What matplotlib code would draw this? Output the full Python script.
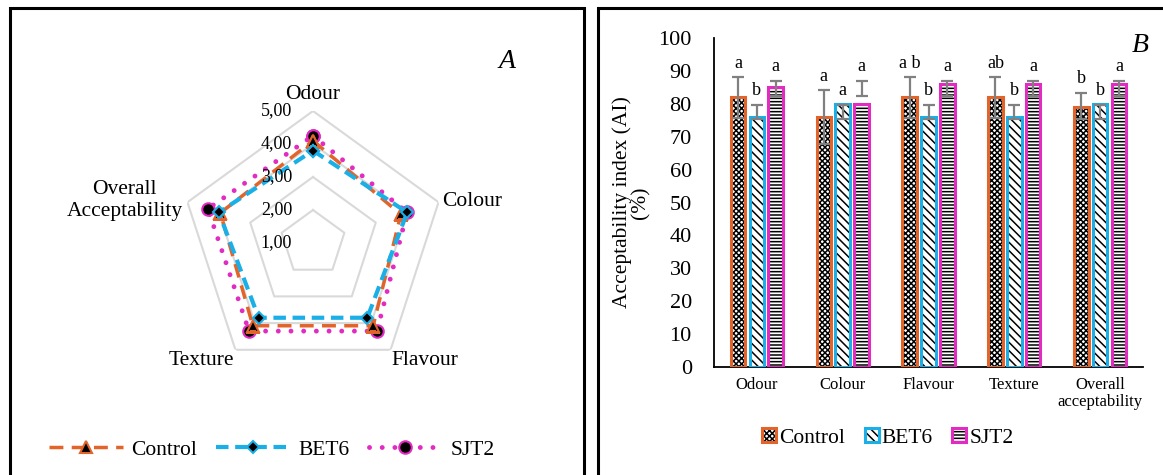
import numpy as np
import matplotlib
matplotlib.use("Agg")
import matplotlib.pyplot as plt
from matplotlib.patches import Rectangle, Patch
from matplotlib.lines import Line2D

plt.rcParams['font.family'] = ['Liberation Serif', 'DejaVu Serif']
plt.rcParams['hatch.linewidth'] = 1.1

# ---------------- data ----------------
radar_attrs = ["Odour", "Colour", "Flavour", "Texture", "Overall\nAcceptability"]
radar_control = [4.10, 3.80, 4.10, 4.10, 3.95]
radar_bet6 = [3.80, 4.00, 3.80, 3.80, 4.00]
radar_sjt2 = [4.25, 4.00, 4.30, 4.30, 4.35]
radar_rings = [1, 2, 3, 4, 5]
radar_ring_labels = ["1,00", "2,00", "3,00", "4,00", "5,00"]

bar_cats = ["Odour", "Colour", "Flavour", "Texture", "Overall\nacceptability"]
series_names = ["Control", "BET6", "SJT2"]
ai_control = [82, 76, 82, 82, 79]
ai_bet6 = [76, 80, 76, 76, 80]
ai_sjt2 = [85, 80, 86, 86, 86]
err_lo_control = [75.8, 67.7, 75.8, 75.8, 75.3]
err_hi_control = [88.0, 84.1, 88.0, 88.0, 83.4]
err_lo_bet6 = [75.5, 75.5, 75.5, 75.5, 75.5]
err_hi_bet6 = [79.6, 79.6, 79.6, 79.6, 79.6]
err_lo_sjt2 = [82.4, 82.4, 82.4, 82.4, 82.4]
err_hi_sjt2 = [86.9, 86.9, 86.9, 86.9, 86.9]
letters_control = ["a", "a", "a b", "ab", "b"]
letters_bet6 = ["b", "a", "b", "b", "b"]
letters_sjt2 = ["a", "a", "a", "a", "a"]
y_ticks = [0, 10, 20, 30, 40, 50, 60, 70, 80, 90, 100]

ORANGE = '#E2642A'
BLUE = '#1AAFE6'
MAGENTA = '#E22BC0'
GRID = '#d9d9d9'

W, H = 1163, 475
fig = plt.figure(figsize=(W / 100, H / 100), dpi=100)

# panel borders
for x0, x1 in [(10, 584), (598, 1175)]:
    fig.add_artist(Rectangle((x0 / W, -0.2), (x1 - x0) / W, 1.2 - 8 / H,
                             transform=fig.transFigure, fill=False,
                             ec='black', lw=2.2, clip_on=False))

# ---------------- radar (A) ----------------
cx, cy, R = 313, 243, 132
axr = fig.add_axes([(cx - R) / W, (H - cy - R) / H, 2 * R / W, 2 * R / H],
                   projection='polar')
axr.set_theta_zero_location('N')
axr.set_theta_direction(-1)
axr.set_ylim(1, 5)
axr.grid(False)
axr.spines['polar'].set_visible(False)
axr.set_xticks([])
axr.set_yticks([])
axr.patch.set_alpha(0)

n = len(radar_attrs)
theta = np.linspace(0, 2 * np.pi, n, endpoint=False)
theta_c = np.append(theta, theta[0])

for r in radar_rings[1:]:
    axr.plot(theta_c, [r] * (n + 1), color=GRID, lw=1.5, zorder=1)

for r, lab in zip(radar_rings, radar_ring_labels):
    axr.annotate(lab, xy=(0, r), xytext=(-21, 0), textcoords='offset pixels',
                 ha='right', va='center', fontsize=13, zorder=6)


def closed(v):
    return list(v) + [v[0]]


axr.plot(theta_c, closed(radar_sjt2), color=MAGENTA, lw=3.5,
         linestyle=(0, (0.01, 2.6)), dash_capstyle='round', marker='o',
         markersize=9, markerfacecolor='black', markeredgecolor=MAGENTA,
         markeredgewidth=1.5, zorder=3)
axr.plot(theta_c, closed(radar_control), color=ORANGE, lw=2.5,
         linestyle=(0, (4, 2.4)), marker='^', markersize=8,
         markerfacecolor='black', markeredgecolor=ORANGE,
         markeredgewidth=1.5, zorder=4)
axr.plot(theta_c, closed(radar_bet6), color=BLUE, lw=3.0,
         linestyle=(0, (3, 1.6)), marker='D', markersize=6,
         markerfacecolor='black', markeredgecolor=BLUE,
         markeredgewidth=1.5, zorder=5)

# axis labels
label_specs = [
    (5.50, 'center', 'center'),
    (5.10, 'left', 'center'),
    (5.05, 'left', 'top'),
    (5.05, 'right', 'top'),
    (5.15, 'right', 'center'),
]
for t, lab, (rr, ha, va) in zip(theta, radar_attrs, label_specs):
    axr.text(t, rr, lab, ha=ha, va=va, fontsize=15.5, multialignment='center')

fig.text(507 / W, 1 - 62 / H, "A", fontsize=20, style='italic',
         ha='center', va='center')

radar_handles = [
    Line2D([], [], color=ORANGE, lw=2.5, linestyle=(0, (4, 2.4)), marker='^',
           markersize=8, markerfacecolor='black', markeredgecolor=ORANGE,
           markeredgewidth=1.5),
    Line2D([], [], color=BLUE, lw=3.0, linestyle=(0, (3, 1.6)), marker='D',
           markersize=6, markerfacecolor='black', markeredgecolor=BLUE,
           markeredgewidth=1.5),
    Line2D([], [], color=MAGENTA, lw=3.5, linestyle=(0, (0.01, 2.6)),
           dash_capstyle='round', marker='o', markersize=9,
           markerfacecolor='black', markeredgecolor=MAGENTA,
           markeredgewidth=1.5),
]
fig.legend(radar_handles, series_names, loc='center',
           bbox_to_anchor=(272 / W, 1 - 450 / H), ncol=3, frameon=False,
           fontsize=15.5, handlelength=3.4, columnspacing=0.9,
           handletextpad=0.4)

# ---------------- bars (B) ----------------
axb = fig.add_axes([714 / W, (H - 367) / H, (1143 - 714) / W, (367 - 38) / H])
x = np.arange(len(bar_cats))
axb.set_xlim(-0.5, len(bar_cats) - 0.5)
axb.set_ylim(0, 100)

series = [
    (ai_control, err_lo_control, err_hi_control, letters_control, ORANGE, 'xxxxxx'),
    (ai_bet6, err_lo_bet6, err_hi_bet6, letters_bet6, BLUE, '\\\\\\\\'),
    (ai_sjt2, err_lo_sjt2, err_hi_sjt2, letters_sjt2, MAGENTA, '-----'),
]
offsets = [-0.22, 0.0, 0.22]
bw = 0.17
legend_handles = []
for (vals, lo, hi, lets, col, hatch), off in zip(series, offsets):
    xs = x + off
    axb.bar(xs, vals, width=bw, facecolor='white', edgecolor='black',
            hatch=hatch, linewidth=0, zorder=2)
    axb.bar(xs, vals, width=bw, facecolor='none', edgecolor=col,
            linewidth=2.2, zorder=3)
    lo = np.array(lo)
    hi = np.array(hi)
    axb.errorbar(xs, (lo + hi) / 2, yerr=(hi - lo) / 2, fmt='none',
                 ecolor='#808080', elinewidth=1.6, capsize=4.5, capthick=1.6,
                 zorder=4)
    for xi, h, t in zip(xs, hi, lets):
        axb.annotate(t, xy=(xi, h), xytext=(0, 7), textcoords='offset points',
                     ha='center', va='baseline', fontsize=13)
    legend_handles.append((Patch(facecolor='white', edgecolor='black',
                                 hatch=hatch, linewidth=0),
                           Patch(facecolor='none', edgecolor=col,
                                 linewidth=2.2)))

axb.set_yticks(y_ticks)
axb.set_yticklabels([str(v) for v in y_ticks], fontsize=16)
axb.set_xticks(x)
axb.set_xticklabels(bar_cats, fontsize=12, linespacing=1.1)
axb.tick_params(axis='y', length=0, pad=16)
axb.tick_params(axis='x', length=0, pad=7)
for s in ['top', 'right']:
    axb.spines[s].set_visible(False)
axb.spines['left'].set_linewidth(1.3)
axb.spines['bottom'].set_linewidth(1.3)
axb.set_ylabel("Acceptability index (AI)\n(%)", fontsize=15.5, linespacing=0.95)
axb.yaxis.set_label_coords(-0.148, 0.5)

fig.legend(legend_handles, series_names, loc='center',
           bbox_to_anchor=(888 / W, 1 - 438 / H), ncol=3, frameon=False,
           fontsize=15.5, handlelength=0.65, handleheight=0.65,
           columnspacing=0.9, handletextpad=0.15)

fig.text(1140 / W, 1 - 45 / H, "B", fontsize=20, style='italic',
         ha='center', va='center')

fig.savefig("out.png", dpi=100)
